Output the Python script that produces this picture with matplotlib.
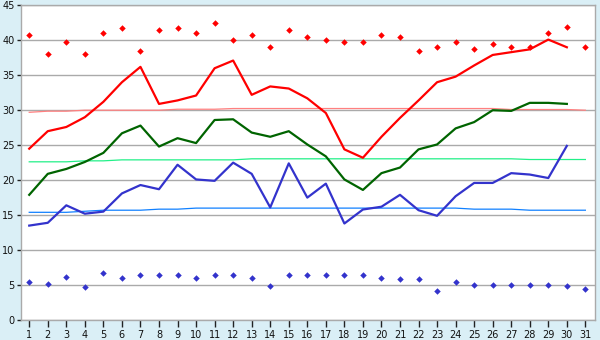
import matplotlib
matplotlib.use("Agg")
import matplotlib.pyplot as plt
import numpy as np

days = list(range(1, 32))

# daily maximum (days 1-30)
tmax = [24.5, 27.0, 27.6, 29.0, 31.2, 34.0, 36.2, 30.9, 31.4, 32.1,
        36.0, 37.1, 32.2, 33.4, 33.1, 31.7, 29.6, 24.4, 23.2, 26.2,
        28.9, 31.4, 34.0, 34.8, 36.4, 37.9, 38.3, 38.7, 40.1, 39.0]
# daily mean (days 1-30)
tmean = [17.9, 20.9, 21.6, 22.6, 23.9, 26.7, 27.8, 24.8, 26.0, 25.3,
         28.6, 28.7, 26.8, 26.2, 27.0, 25.1, 23.4, 20.1, 18.6, 21.0,
         21.8, 24.4, 25.1, 27.4, 28.3, 30.0, 29.9, 31.05, 31.05, 30.9]
# daily minimum (days 1-30)
tmin = [13.5, 13.9, 16.4, 15.2, 15.5, 18.1, 19.3, 18.7, 22.2, 20.1,
        19.9, 22.5, 20.9, 16.1, 22.4, 17.5, 19.5, 13.8, 15.8, 16.2,
        17.9, 15.7, 14.9, 17.7, 19.6, 19.6, 21.0, 20.8, 20.3, 24.9]
# record highs (days 1-31)
rec_high = [40.7, 38.1, 39.7, 38.0, 41.0, 41.7, 38.4, 41.5, 41.8, 41.0,
            42.4, 40.0, 40.7, 39.0, 41.4, 40.4, 40.0, 39.7, 39.7, 40.7,
            40.4, 38.5, 39.0, 39.8, 38.8, 39.4, 39.0, 39.1, 41.0, 41.95, 39.0]
# record lows (days 1-31)
rec_low = [5.4, 5.2, 6.1, 4.7, 6.7, 5.95, 6.4, 6.4, 6.4, 5.95,
           6.5, 6.4, 5.95, 4.8, 6.4, 6.4, 6.4, 6.4, 6.4, 5.95,
           5.8, 5.8, 4.1, 5.5, 4.95, 4.95, 4.95, 4.95, 4.95, 4.8, 4.4]
# normals (days 1-31)
norm_max = [29.7, 29.86, 29.86, 30.0, 30.0, 30.0, 30.0, 30.0, 30.14, 30.14,
            30.14, 30.24, 30.24, 30.24, 30.24, 30.24, 30.24, 30.24, 30.24, 30.24,
            30.24, 30.24, 30.24, 30.24, 30.24, 30.24, 30.1, 30.1, 30.1, 30.1, 30.0]
norm_mean = [22.62, 22.62, 22.62, 22.76, 22.76, 22.9, 22.9, 22.9, 22.9, 22.9,
             22.9, 22.9, 23.05, 23.05, 23.05, 23.05, 23.05, 23.05, 23.05, 23.05,
             23.05, 23.05, 23.05, 23.05, 23.05, 23.05, 23.05, 22.95, 22.95, 22.95, 22.95]
norm_min = [15.4, 15.4, 15.4, 15.55, 15.7, 15.7, 15.7, 15.85, 15.85, 16.0,
            16.0, 16.0, 16.0, 16.0, 16.0, 16.0, 16.0, 16.0, 16.0, 16.0,
            16.0, 16.0, 16.0, 16.0, 15.85, 15.85, 15.85, 15.7, 15.7, 15.7, 15.7]

bg = "#daeff6"
fig = plt.figure(figsize=(6.0, 3.4), dpi=100, facecolor=bg)
ax = fig.add_axes([0.0345, 0.0588, 0.9572, 0.9256])
ax.set_facecolor("white")

d30 = days[:30]
ax.plot(days, norm_max, color="#ff8080", lw=0.9, zorder=2)
ax.plot(days, norm_mean, color="#22f088", lw=0.9, zorder=2)
ax.plot(days, norm_min, color="#1080ff", lw=0.9, zorder=2)

ax.plot(d30, tmax, color="#ff0000", lw=1.6, zorder=3)
ax.plot(d30, tmean, color="#006400", lw=1.6, zorder=3)
ax.plot(d30, tmin, color="#3333cc", lw=1.6, zorder=3)

ax.plot(days, rec_high, ls="none", marker="D", ms=3.3, color="#ff0000",
        markeredgewidth=0, zorder=4)
ax.plot(days, rec_low, ls="none", marker="D", ms=3.3, color="#3333cc",
        markeredgewidth=0, zorder=4)

ax.set_xlim(0.54, 31.52)
ax.set_ylim(0, 45)
ax.set_xticks(days)
ax.set_yticks(np.arange(0, 46, 5))
ax.yaxis.grid(True, color="#aaaaaa", lw=1.0)
ax.set_axisbelow(True)
for s in ax.spines.values():
    s.set_color("#aaaaaa")
    s.set_linewidth(1.0)
ax.tick_params(axis="x", direction="out", length=5, width=1, color="#222222",
               labelsize=7, pad=2.5, labelcolor="#111111")
ax.tick_params(axis="y", direction="out", length=3, width=1, color="#222222",
               labelsize=7, pad=1.5, labelcolor="#111111")

fig.savefig("out.png", dpi=100, facecolor=bg)
